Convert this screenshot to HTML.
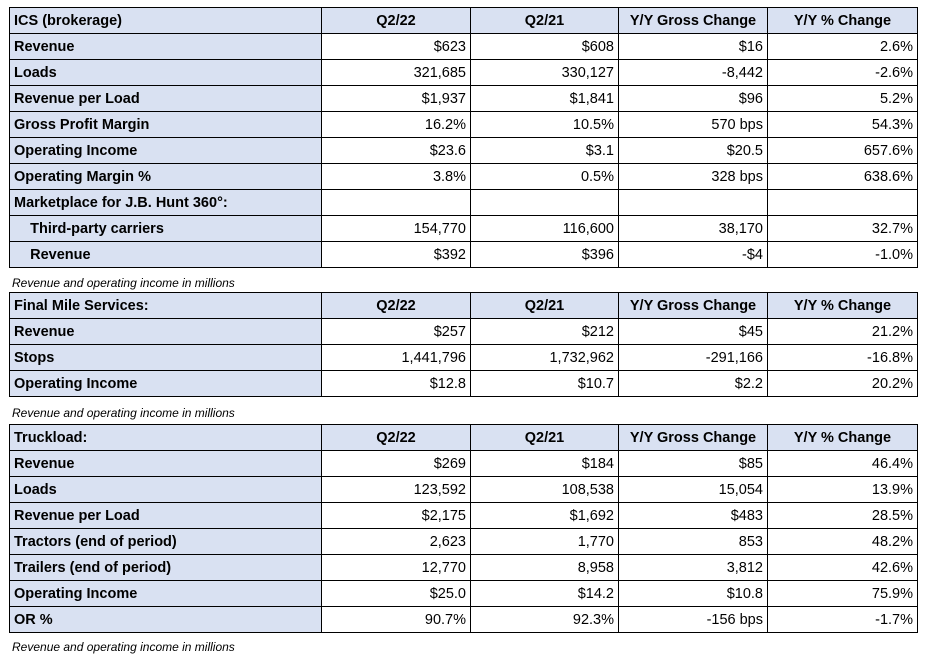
<!DOCTYPE html>
<html><head><meta charset="utf-8">
<style>
body{margin:0;width:930px;height:661px;background:#fff;position:relative;font-family:"Liberation Sans",sans-serif;overflow:hidden}
.t{position:absolute;left:9px;border-collapse:collapse;table-layout:fixed}
.t td{border:1px solid #000;height:26px;padding:0 4px;font-size:14.5px;color:#000;white-space:nowrap;box-sizing:border-box}
.t td.l{background:#d9e1f2;font-weight:bold;text-align:left}
.t td.v{text-align:right}
.t tr.h td{background:#d9e1f2;font-weight:bold;text-align:center}
.t tr.h td.l{text-align:left}
.note{position:absolute;left:12px;font-size:12px;font-style:italic}
</style></head><body>
<div id="root"></div>
<script>
const ics=[["ICS (brokerage)","Q2/22","Q2/21","Y/Y Gross Change","Y/Y % Change"],
["Revenue","$623","$608","$16","2.6%"],["Loads","321,685","330,127","-8,442","-2.6%"],
["Revenue per Load","$1,937","$1,841","$96","5.2%"],["Gross Profit Margin","16.2%","10.5%","570 bps","54.3%"],
["Operating Income","$23.6","$3.1","$20.5","657.6%"],["Operating Margin %","3.8%","0.5%","328 bps","638.6%"],
["Marketplace for J.B. Hunt 360°:","","","",""],["\u00a0\u00a0\u00a0\u00a0Third-party carriers","154,770","116,600","38,170","32.7%"],
["\u00a0\u00a0\u00a0\u00a0Revenue","$392","$396","-$4","-1.0%"]];
const fms=[["Final Mile Services:","Q2/22","Q2/21","Y/Y Gross Change","Y/Y % Change"],
["Revenue","$257","$212","$45","21.2%"],["Stops","1,441,796","1,732,962","-291,166","-16.8%"],
["Operating Income","$12.8","$10.7","$2.2","20.2%"]];
const jbt=[["Truckload:","Q2/22","Q2/21","Y/Y Gross Change","Y/Y % Change"],
["Revenue","$269","$184","$85","46.4%"],["Loads","123,592","108,538","15,054","13.9%"],
["Revenue per Load","$2,175","$1,692","$483","28.5%"],["Tractors (end of period)","2,623","1,770","853","48.2%"],
["Trailers (end of period)","12,770","8,958","3,812","42.6%"],["Operating Income","$25.0","$14.2","$10.8","75.9%"],
["OR %","90.7%","92.3%","-156 bps","-1.7%"]];
const widths=[312,149,148,149,150];
function build(data,top,name,noteTop){
  const t=document.createElement('table');t.className='t';t.style.top=top+'px';
  
  
  const cg=document.createElement('colgroup');
  widths.forEach(w=>{const c=document.createElement('col');c.style.width=w+'px';cg.appendChild(c);});
  t.appendChild(cg);
  data.forEach((r,i)=>{
    const tr=document.createElement('tr');if(i==0)tr.className='h';
    
    
    r.forEach((c,j)=>{const td=document.createElement('td');td.className=j==0?'l':'v';td.textContent=c;
      
      
      tr.appendChild(td);});
    t.appendChild(tr);
  });
  document.body.appendChild(t);
  const n=document.createElement('div');n.className='note';n.style.top=noteTop+'px';
  n.textContent='Revenue and operating income in millions';
  
  
  document.body.appendChild(n);
}
build(ics,7,'ics-table',276);
build(fms,292,'final-mile-table',406);
build(jbt,424,'truckload-table',640);
</script>
</body></html>
